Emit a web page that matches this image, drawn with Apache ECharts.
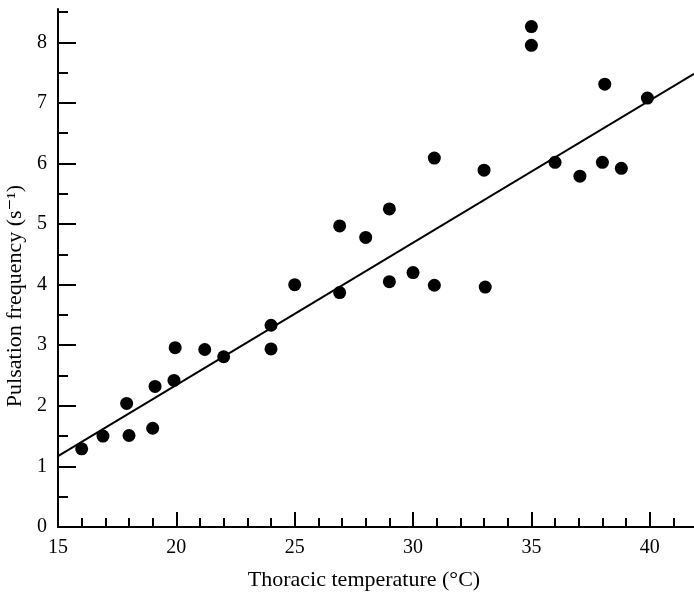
<!DOCTYPE html>
<html>
<head>
<meta charset="utf-8">
<script src="https://cdn.jsdelivr.net/npm/echarts@6/dist/echarts.min.js"></script>
<style>html,body{margin:0;padding:0;background:#fff;}#c{width:694px;height:597px;}</style>
</head>
<body>
<div id="c"></div>
<script>
// Data
var tempC = [16.0, 16.9, 18.0, 17.9, 19.0, 19.1, 19.9, 19.95, 21.2, 22.0, 24.0, 24.0, 25.0, 26.9, 26.9, 28.0, 29.0, 29.0, 30.0, 30.9, 30.9, 33.0, 33.05, 35.0, 35.0, 36.0, 37.05, 38.0, 38.1, 38.8, 39.9];
var freq  = [1.29, 1.50, 1.51, 2.04, 1.63, 2.32, 2.42, 2.96, 2.93, 2.81, 3.33, 2.94, 4.00, 3.87, 4.97, 4.78, 5.25, 4.05, 4.20, 3.99, 6.09, 5.89, 3.96, 8.26, 7.95, 6.02, 5.79, 6.02, 7.31, 5.92, 7.08];
var fitX = [15, 41.87];
var fitY = [1.17, 7.48];
var xMajorTicks = [15, 20, 25, 30, 35, 40];
var xMinorTicks = [16, 17, 18, 19, 21, 22, 23, 24, 26, 27, 28, 29, 31, 32, 33, 34, 36, 37, 38, 39, 41];
var yMajorTicks = [0, 1, 2, 3, 4, 5, 6, 7, 8];
var yMinorTicks = [0.5, 1.5, 2.5, 3.5, 4.5, 5.5, 6.5, 7.5, 8.5];
var xRange = [15, 41.87];
var yRange = [0, 8.55];

var FONT = '"Liberation Serif", "DejaVu Serif", serif';
var chart = echarts.init(document.getElementById('c'), null, {renderer: 'canvas'});
var scatterData = tempC.map(function (t, i) { return [t, freq[i]]; });
var fitData = fitX.map(function (t, i) { return [t, fitY[i]]; });

chart.setOption({
  animation: false,
  backgroundColor: '#fff',
  grid: {left: 58, right: 0, top: 9, bottom: 70, containLabel: false, outerBoundsMode: 'none'},
  xAxis: [{
    type: 'value', position: 'bottom', min: xRange[0], max: xRange[1], interval: 5,
    name: 'Thoracic temperature (°C)', nameLocation: 'middle', nameGap: 42,
    nameTextStyle: {fontFamily: FONT, fontSize: 22, color: '#000', padding: [0, 24, 0, 0]},
    axisLine: {show: true, lineStyle: {color: '#000', width: 2}},
    axisTick: {show: true, inside: true, length: 15, customValues: xMajorTicks, lineStyle: {color: '#000', width: 2}},
    axisLabel: {customValues: xMajorTicks, margin: 11, fontFamily: FONT, fontSize: 20, color: '#000'},
    splitLine: {show: false}
  }, {
    type: 'value', position: 'bottom', min: xRange[0], max: xRange[1], interval: 1,
    axisLine: {show: false},
    axisTick: {show: true, inside: true, length: 9, customValues: xMinorTicks, lineStyle: {color: '#000', width: 2}},
    axisLabel: {show: false},
    splitLine: {show: false}
  }],
  yAxis: [{
    type: 'value', position: 'left', min: yRange[0], max: yRange[1], interval: 1,
    name: 'Pulsation frequency (s⁻¹)', nameLocation: 'middle', nameGap: 30, nameRotate: 90,
    nameTextStyle: {fontFamily: FONT, fontSize: 22, color: '#000', padding: [0, 56, 0, 0]},
    axisLine: {show: true, lineStyle: {color: '#000', width: 2}},
    axisTick: {show: true, inside: true, length: 18, customValues: yMajorTicks, lineStyle: {color: '#000', width: 2}},
    axisLabel: {customValues: yMajorTicks, margin: 11, fontFamily: FONT, fontSize: 20, color: '#000'},
    splitLine: {show: false}
  }, {
    type: 'value', position: 'left', min: yRange[0], max: yRange[1], interval: 0.5,
    axisLine: {show: false},
    axisTick: {show: true, inside: true, length: 10, customValues: yMinorTicks, lineStyle: {color: '#000', width: 2}},
    axisLabel: {show: false},
    splitLine: {show: false}
  }],
  series: [{
    type: 'line', xAxisIndex: 0, yAxisIndex: 0, data: fitData,
    showSymbol: false, symbol: 'none', silent: true,
    lineStyle: {color: '#000', width: 2}
  }, {
    type: 'scatter', xAxisIndex: 0, yAxisIndex: 0, data: scatterData,
    symbol: 'circle', symbolSize: 13, silent: true,
    itemStyle: {color: '#000', opacity: 1}
  }]
});
</script>
</body>
</html>
